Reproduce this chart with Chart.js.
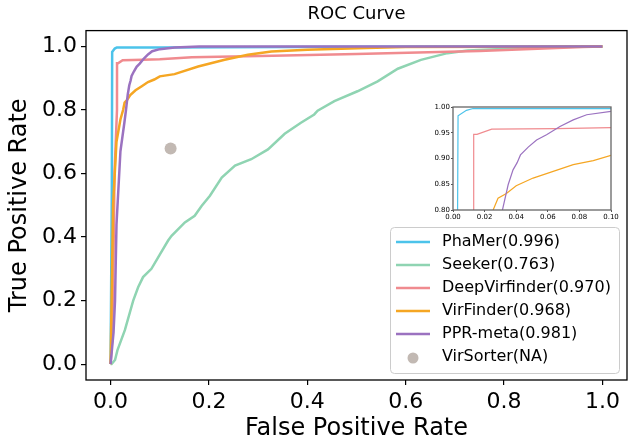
<!DOCTYPE html>
<html>
<head>
<meta charset="utf-8">
<script src="https://cdn.jsdelivr.net/npm/chart.js@4/dist/chart.umd.min.js"></script>
<style>
  body { margin: 0; background: #fff; }
  #wrap { position: relative; width: 633px; height: 445px; }
  #roc { position: absolute; left: 0; top: 0; }
  #zoomed { position: absolute; left: 415px; top: 100px; }
</style>
</head>
<body>
<div id="wrap">
  <canvas id="roc" width="633" height="445"></canvas>
  <canvas id="zoomed" width="205" height="125"></canvas>
</div>
<script>
// Tick labels
const mainTicks = [0, 0.2, 0.4, 0.6, 0.8, 1.0];
const insetXTicks = [0, 0.02, 0.04, 0.06, 0.08, 0.10];
const insetYTicks = [0.80, 0.85, 0.90, 0.95, 1.00];

// Legend names
const names = ["PhaMer(0.996)", "Seeker(0.763)", "DeepVirfinder(0.970)", "VirFinder(0.968)", "PPR-meta(0.981)", "VirSorter(NA)"];

// ROC curves (false positive rate, true positive rate)
const phamerFpr = [0, 0.0025, 0.0032, 0.0085, 0.0127, 0.1, 0.5, 1.0];
const phamerTpr = [0, 0.55, 0.983, 0.9935, 0.997, 0.997, 0.999, 1.0];

const seekerFpr = [0, 0.002, 0.009, 0.014, 0.029, 0.046, 0.056, 0.066, 0.083, 0.1, 0.117, 0.124, 0.151, 0.171, 0.185, 0.202, 0.226, 0.253, 0.286, 0.32, 0.354, 0.387, 0.414, 0.421, 0.455, 0.502, 0.543, 0.584, 0.631, 0.685, 0.726, 0.82, 0.9, 1.0];
const seekerTpr = [0, 0, 0.013, 0.044, 0.107, 0.2, 0.242, 0.274, 0.3, 0.345, 0.389, 0.404, 0.446, 0.467, 0.498, 0.53, 0.587, 0.625, 0.645, 0.676, 0.725, 0.76, 0.786, 0.798, 0.828, 0.859, 0.89, 0.93, 0.958, 0.979, 0.987, 0.994, 0.998, 1.0];

const deepFpr = [0, 0.004, 0.008, 0.013, 0.0131, 0.0152, 0.0245, 0.0655, 0.1, 0.165, 0.33, 0.5, 0.75, 0.96, 1.0];
const deepTpr = [0, 0.1, 0.6, 0.8, 0.947, 0.947, 0.957, 0.958, 0.96, 0.966, 0.971, 0.976, 0.986, 0.998, 1.0];

const virFpr = [0, 0.003, 0.005, 0.012, 0.02, 0.0254, 0.0285, 0.0338, 0.040, 0.0507, 0.0634, 0.0761, 0.0888, 0.1, 0.13, 0.178, 0.232, 0.279, 0.327, 0.4, 0.52, 0.6, 1.0];
const virTpr = [0, 0.3, 0.5, 0.7, 0.77, 0.80, 0.823, 0.832, 0.847, 0.862, 0.875, 0.888, 0.896, 0.906, 0.913, 0.937, 0.958, 0.974, 0.984, 0.99, 0.995, 0.998, 1.0];

const pprFpr = [0, 0.006, 0.009, 0.012, 0.02, 0.028, 0.0313, 0.0349, 0.038, 0.0406, 0.0427, 0.0476, 0.0529, 0.0592, 0.0677, 0.0761, 0.0846, 0.1, 0.13, 0.18, 1.0];
const pprTpr = [0, 0.1, 0.2, 0.44, 0.67, 0.76, 0.80, 0.849, 0.878, 0.892, 0.907, 0.922, 0.936, 0.946, 0.962, 0.975, 0.985, 0.9916, 0.997, 1.0, 1.0];

// VirSorter has a single operating point
const sorterFpr = [0.122];
const sorterTpr = [0.679];

const colors = ["#4cc3ea", "#8fd4b2", "#f08b8f", "#f5a623", "#9b72c0", "#c2b9b3"];

const pts = (xs, ys) => xs.map((x, i) => ({ x: x, y: ys[i] }));

function makeDatasets(width) {
    const curves = [[phamerFpr, phamerTpr], [seekerFpr, seekerTpr], [deepFpr, deepTpr], [virFpr, virTpr], [pprFpr, pprTpr]];
    const sets = curves.map((c, i) => ({
        label: names[i],
        data: pts(c[0], c[1]),
        showLine: true,
        borderColor: colors[i],
        backgroundColor: colors[i],
        borderWidth: width,
        pointRadius: 0,
        tension: 0
    }));
    sets.push({
        label: names[5],
        data: pts(sorterFpr, sorterTpr),
        showLine: false,
        backgroundColor: colors[5],
        borderColor: colors[5],
        pointRadius: width > 2 ? 6 : 0,
        pointBorderWidth: 0
    });
    // later series drawn on top, like matplotlib
    sets.forEach((s, i) => s.order = sets.length - i);
    return sets;
}

const FONT = "'DejaVu Sans', sans-serif";

// frame around the axes
const frame = {
    id: "frame",
    beforeDatasetsDraw(chart, args, opts) {
        if (opts.fill) {
            const a = chart.chartArea;
            chart.ctx.save();
            chart.ctx.fillStyle = "#fff";
            chart.ctx.fillRect(a.left, a.top, a.right - a.left, a.bottom - a.top);
            chart.ctx.restore();
        }
    },
    afterDatasetsDraw(chart, args, opts) {
        const a = chart.chartArea;
        const ctx = chart.ctx;
        ctx.save();
        ctx.strokeStyle = opts.color;
        ctx.lineWidth = opts.width;
        ctx.strokeRect(a.left, a.top, a.right - a.left, a.bottom - a.top);
        ctx.restore();
    }
};

// matplotlib-like legend box in the lower right
const boxLegend = {
    id: "boxLegend",
    afterDraw(chart) {
        const ctx = chart.ctx;
        const x0 = 390, y0 = 227, w = 229, h = 146;
        ctx.save();
        ctx.fillStyle = "rgba(255,255,255,0.85)";
        ctx.strokeStyle = "#cccccc";
        ctx.lineWidth = 1;
        ctx.beginPath();
        ctx.roundRect(x0 + 0.5, y0 + 0.5, w, h, 4);
        ctx.fill();
        ctx.stroke();
        ctx.font = "16px " + FONT;
        ctx.textBaseline = "middle";
        chart.data.datasets.forEach((ds, i) => {
            const y = 242 + i * 23;
            if (ds.showLine) {
                ctx.strokeStyle = ds.borderColor;
                ctx.lineWidth = 2.5;
                ctx.beginPath();
                ctx.moveTo(396, y);
                ctx.lineTo(430, y);
                ctx.stroke();
            } else {
                ctx.fillStyle = ds.backgroundColor;
                ctx.beginPath();
                ctx.arc(413, y + 1, 5.5, 0, Math.PI * 2);
                ctx.fill();
            }
            ctx.fillStyle = "#000";
            ctx.fillText(ds.label, 442, y);
        });
        ctx.restore();
    }
};

function axis(min, max, ticks, digits, size, fixed, tickLen, color, lw, title) {
    return {
        type: "linear",
        min: min,
        max: max,
        afterBuildTicks: s => { s.ticks = ticks.map(v => ({ value: v })); },
        afterFit: s => { if (s.isHorizontal()) s.height = fixed; else s.width = fixed; },
        border: { display: false },
        grid: { drawOnChartArea: false, drawTicks: true, tickLength: tickLen, color: color, lineWidth: lw },
        ticks: {
            autoSkip: false,
            maxRotation: 0,
            padding: tickLen > 3 ? 4 : 1,
            color: "#000",
            font: { family: FONT, size: size },
            callback: v => Number(v).toFixed(digits)
        },
        title: title
    };
}

new Chart(document.getElementById("roc"), {
    type: "scatter",
    data: { datasets: makeDatasets(2.5) },
    options: {
        responsive: false,
        animation: false,
        layout: { padding: { right: 6, bottom: 0 } },
        scales: {
            x: axis(-0.05, 1.05, mainTicks, 1, 22, 65, 5, "#000", 1.2,
                { display: true, text: "False Positive Rate", color: "#000", font: { family: FONT, size: 24 }, padding: { top: 0, bottom: 2 } }),
            y: axis(-0.05, 1.05, mainTicks, 1, 22, 86, 5, "#000", 1.2,
                { display: true, text: "True Positive Rate", color: "#000", font: { family: FONT, size: 24 }, padding: { top: 5, bottom: 0 } })
        },
        plugins: {
            legend: { display: false },
            tooltip: { enabled: false },
            title: {
                display: true,
                text: "ROC Curve",
                fullSize: false,
                color: "#000",
                font: { family: FONT, size: 18, weight: "normal" },
                padding: { top: 4, bottom: 5 }
            },
            frame: { color: "#000", width: 1.3, fill: false }
        }
    },
    plugins: [frame, boxLegend]
});

// zoomed inset of the upper-left corner
new Chart(document.getElementById("zoomed"), {
    type: "scatter",
    data: { datasets: makeDatasets(1.2) },
    options: {
        responsive: false,
        animation: false,
        layout: { padding: { top: 7, right: 9, left: 0, bottom: 0 } },
        scales: {
            x: axis(0, 0.1, insetXTicks, 2, 7, 15, 2, "#555", 1, { display: false }),
            y: axis(0.8, 1.0, insetYTicks, 2, 7, 38, 2, "#555", 1, { display: false })
        },
        plugins: {
            legend: { display: false },
            tooltip: { enabled: false },
            frame: { color: "#666", width: 1.3, fill: true }
        }
    },
    plugins: [frame]
});
</script>
</body>
</html>
